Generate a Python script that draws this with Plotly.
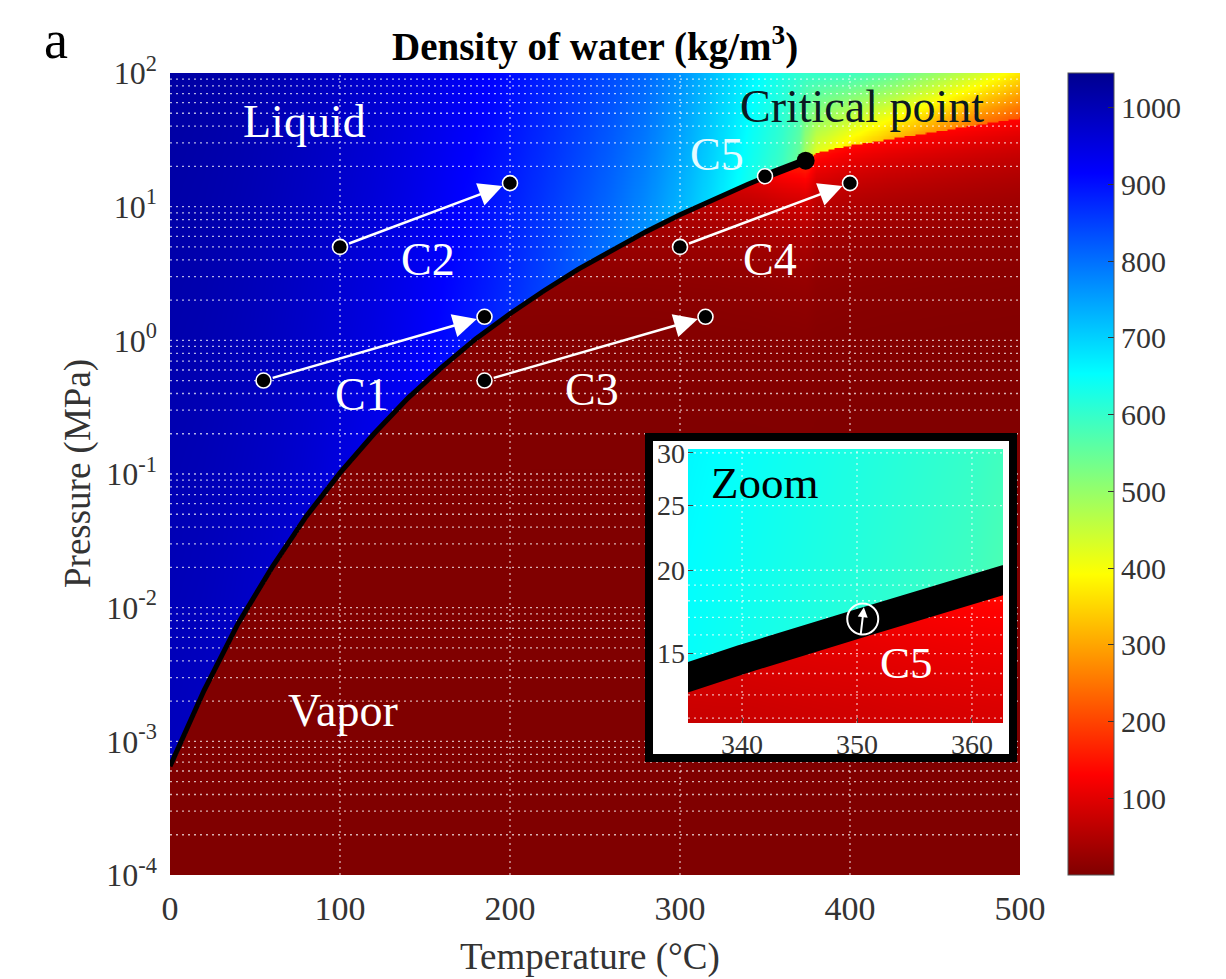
import numpy as np
import plotly.graph_objects as go

# ---------------- values ----------------
# phase boundary: saturation curve up to the critical point, then its
# supercritical continuation (where colour switches from orange to red)
BOUND_T = [0, 20, 40, 60, 80, 100, 120, 140, 160, 180, 200, 220, 240, 260, 280,
           300, 320, 340, 350, 360, 370, 373.9, 380, 400, 425, 450, 475, 500]
BOUND_P = [0.00065, 0.0024, 0.0076, 0.020, 0.048, 0.102, 0.20, 0.37, 0.63, 1.03,
           1.58, 2.35, 3.4, 4.75, 6.5, 8.7, 11.4, 14.7, 16.6, 18.8, 21.1, 22.1,
           25.5, 29, 32.5, 36.5, 41, 46]
# density (kg/m3) just above the boundary, at 100 MPa, and just below the boundary
BOUND_LIQ = [990, 988, 982, 975, 965, 952, 940, 925, 905, 888, 868, 845, 820, 795, 765,
             728, 685, 635, 612, 588, 540, 470, 420, 370, 320, 280, 245, 215]
BOUND_TOP = [1022, 1018, 1012, 1003, 993, 982, 970, 956, 940, 922, 903, 882, 860, 836, 808,
             765, 715, 668, 645, 624, 606, 600, 600, 590, 555, 500, 440, 365]
BOUND_VAP = [0.005, 0.017, 0.05, 0.13, 0.29, 0.6, 1.1, 2.0, 3.3, 5.2, 7.9, 11.6, 16.8, 23.7, 33.2,
             46.2, 64.7, 92.8, 113, 140, 165, 180, 150, 140, 135, 135, 135, 135]
N_SAT = 22                      # first 22 boundary points form the saturation curve
CRIT_T, CRIT_P = 373.9, 22.1

PATH_T0 = [55, 100, 185, 300]
PATH_P0 = [0.5, 5.0, 0.5, 5.0]
PATH_T1 = [185, 200, 315, 400]
PATH_P1 = [1.5, 15.0, 1.5, 15.0]
C5_T0, C5_P0 = 350, 16.9

LABELS = ["Liquid", "Vapor", "C1", "C2", "C3", "C4", "C5", "Critical point"]
LABEL_T = [79, 102, 113, 152, 248, 353, 322, 407]
LABEL_P = [43, 0.0017, 0.39, 4.0, 0.43, 4.0, 24.4, 55.7]
LABEL_COLORS = ["white", "white", "white", "white", "white", "white", "#e4fbff", "#0b1a22"]

X_TICKS = [0, 100, 200, 300, 400, 500]
Y_TICKS = [1e-4, 1e-3, 1e-2, 1e-1, 1e0, 1e1, 1e2]
Y_EXP = [-4, -3, -2, -1, 0, 1, 2]
CBAR_TICKS = [100, 200, 300, 400, 500, 600, 700, 800, 900, 1000]
RHO_MIN, RHO_MAX = 0, 1045

INSET_T_RANGE = [335.3, 362.7]
INSET_P_RANGE = [11.8, 30.4]
INSET_X_TICKS = [340, 350, 360]
INSET_Y_TICKS = [15, 20, 25, 30]
INSET_Y_GRID = [12, 13, 14, 15, 16, 17, 18, 19, 20, 25, 30]
INSET_ARROW_T = [350.3, 350.6]
INSET_ARROW_P = [15.9, 17.6]
INSET_LABELS = ["Zoom", "C5"]
INSET_LABEL_T = [342.0, 354.3]
INSET_LABEL_P = [27.0, 14.5]
INSET_LABEL_COLORS = ["black", "white"]

FONT = "Liberation Serif, Times New Roman, serif"
# the page body has an 8 px margin, so the figure is 8 px smaller and shifted
OFF = 8
W, H = 1226 - OFF, 979 - OFF


def fx(px):
    return (px - OFF) / W


def fy(py):
    return 1 - (py - OFF) / H


# ---------------- density raster built from the read values ----------------
bt = np.array(BOUND_T, float)
blp = np.log10(np.array(BOUND_P, float))


def density(tvals, lpvals):
    lp_line = np.interp(tvals, bt, blp)[None, :]
    liq0 = np.interp(tvals, bt, BOUND_LIQ)[None, :]
    liq1 = np.interp(tvals, bt, BOUND_TOP)[None, :]
    vap = np.interp(tvals, bt, BOUND_VAP)[None, :]
    LP = lpvals[:, None]
    frac = np.clip((LP - lp_line) / np.maximum(2.0 - lp_line, 1e-6), 0, 1)
    liquid = liq0 + (liq1 - liq0) * frac
    gas = vap * 10 ** (LP - lp_line)
    return np.round(np.where(LP >= lp_line, liquid, gas), 1)


tg = np.linspace(0, 500, 401)
lpg = np.linspace(-4, 2, 481)
Z = density(tg, lpg)

tgi = np.linspace(INSET_T_RANGE[0] - 0.2, INSET_T_RANGE[1] + 0.2, 160)
lpgi = np.linspace(np.log10(INSET_P_RANGE[0]) - 0.005, np.log10(INSET_P_RANGE[1]) + 0.005, 160)
ZI = density(tgi, lpgi)

JET_R = [[0, "rgb(128,0,0)"], [0.125, "rgb(255,0,0)"], [0.375, "rgb(255,255,0)"],
         [0.625, "rgb(0,255,255)"], [0.875, "rgb(0,0,255)"], [1, "rgb(0,0,143)"]]

fig = go.Figure()

# main heatmap
fig.add_trace(go.Heatmap(x=tg, y=10 ** lpg, z=Z, coloraxis="coloraxis", hoverinfo="skip",
                         zsmooth="best"))

# dotted white grid (drawn over the heatmap)
gx, gy = [], []
for t in X_TICKS[1:-1]:
    gx += [t, t, None]
    gy += [Y_TICKS[0], Y_TICKS[-1], None]
for e in Y_EXP[:-1]:
    for k in range(1, 10):
        p = k * 10.0 ** e
        if p <= Y_TICKS[0]:
            continue
        gx += [X_TICKS[0], X_TICKS[-1], None]
        gy += [p, p, None]
fig.add_trace(go.Scatter(x=gx, y=gy, mode="lines", hoverinfo="skip",
                         line=dict(color="rgba(255,255,255,0.7)", width=1.3, dash="2px,4px")))

# saturation curve
fig.add_trace(go.Scatter(x=BOUND_T[:N_SAT], y=BOUND_P[:N_SAT], mode="lines", hoverinfo="skip",
                         line=dict(color="black", width=5)))
# C5 path along the curve
c5_t = [C5_T0] + [t for t in BOUND_T[:N_SAT] if t > C5_T0]
c5_p = [C5_P0] + [p for t, p in zip(BOUND_T[:N_SAT], BOUND_P[:N_SAT]) if t > C5_T0]
fig.add_trace(go.Scatter(x=c5_t, y=c5_p, mode="lines", hoverinfo="skip",
                         line=dict(color="black", width=8)))
fig.add_trace(go.Scatter(x=[CRIT_T], y=[CRIT_P], mode="markers", hoverinfo="skip",
                         marker=dict(color="black", size=18)))
# path end points
fig.add_trace(go.Scatter(x=PATH_T0 + PATH_T1 + [C5_T0], y=PATH_P0 + PATH_P1 + [C5_P0],
                         mode="markers", hoverinfo="skip",
                         marker=dict(color="black", size=15, line=dict(color="white", width=1.6))))

# inset frame subplot (white background)
fig.add_trace(go.Scatter(x=[0.5], y=[0.5], xaxis="x2", yaxis="y2", mode="markers",
                         marker=dict(opacity=0), hoverinfo="skip"))

# inset plot
fig.add_trace(go.Heatmap(x=tgi, y=10 ** lpgi, z=ZI, coloraxis="coloraxis", hoverinfo="skip",
                         xaxis="x3", yaxis="y3", zsmooth="best"))
igx, igy = [], []
for t in INSET_X_TICKS:
    igx += [t, t, None]
    igy += [INSET_P_RANGE[0], INSET_P_RANGE[1], None]
for p in INSET_Y_GRID:
    igx += [INSET_T_RANGE[0], INSET_T_RANGE[1], None]
    igy += [p, p, None]
fig.add_trace(go.Scatter(x=igx, y=igy, mode="lines", hoverinfo="skip", xaxis="x3", yaxis="y3",
                         line=dict(color="rgba(255,255,255,0.7)", width=1.3, dash="2px,4px")))
fig.add_trace(go.Scatter(x=BOUND_T[:N_SAT], y=BOUND_P[:N_SAT], mode="lines", hoverinfo="skip",
                         xaxis="x3", yaxis="y3", line=dict(color="black", width=29)))
fig.add_trace(go.Scatter(x=[C5_T0 + 0.5], y=[C5_P0], mode="markers", hoverinfo="skip",
                         xaxis="x3", yaxis="y3",
                         marker=dict(symbol="circle-open", size=31, color="white",
                                     line=dict(color="white", width=2))))

ann = []
# arrows
for t0, p0, t1, p1 in zip(PATH_T0, PATH_P0, PATH_T1, PATH_P1):
    ann.append(dict(x=t1, y=np.log10(p1), ax=t0, ay=np.log10(p0), xref="x", yref="y",
                    axref="x", ayref="y", text="", showarrow=True, arrowhead=2,
                    arrowsize=1.9, arrowwidth=2.5, arrowcolor="white", standoff=8,
                    startstandoff=8))
ann.append(dict(x=INSET_ARROW_T[1], y=np.log10(INSET_ARROW_P[1]), ax=INSET_ARROW_T[0],
                ay=np.log10(INSET_ARROW_P[0]), xref="x3", yref="y3", axref="x3", ayref="y3",
                text="", showarrow=True, arrowhead=2, arrowsize=1, arrowwidth=2,
                arrowcolor="white"))
# region / path labels
for s, t, p, c in zip(LABELS, LABEL_T, LABEL_P, LABEL_COLORS):
    ann.append(dict(x=t, y=np.log10(p), xref="x", yref="y", text=s, showarrow=False,
                    xanchor="center", yanchor="middle",
                    font=dict(family=FONT, size=46, color=c)))
for s, t, p, c in zip(INSET_LABELS, INSET_LABEL_T, INSET_LABEL_P, INSET_LABEL_COLORS):
    ann.append(dict(x=t, y=np.log10(p), xref="x3", yref="y3", text=s, showarrow=False,
                    xanchor="center", yanchor="middle",
                    font=dict(family=FONT, size=45, color=c)))
# titles
ann.append(dict(x=fx(595), y=fy(45), xref="paper", yref="paper",
                text="<b>Density of water (kg/m<sup>3</sup>)</b>", showarrow=False,
                xanchor="center", yanchor="middle",
                font=dict(family=FONT, size=39, color="black")))
ann.append(dict(x=fx(56), y=fy(8), xref="paper", yref="paper", text="a", showarrow=False,
                xanchor="center", yanchor="top",
                font=dict(family=FONT, size=54, color="black")))
ann.append(dict(x=fx(590), y=fy(957), xref="paper", yref="paper", text="Temperature (°C)",
                showarrow=False, xanchor="center", yanchor="middle",
                font=dict(family=FONT, size=37, color="#333")))
ann.append(dict(x=fx(78), y=fy(474), xref="paper", yref="paper", text="Pressure (MPa)",
                showarrow=False, textangle=-90, xanchor="center", yanchor="middle",
                font=dict(family=FONT, size=37, color="#333")))

tickfont = dict(family=FONT, size=34, color="#333")
fig.update_layout(
    width=W, height=H, margin=dict(l=0, r=0, t=0, b=0, autoexpand=False),
    paper_bgcolor="white", plot_bgcolor="white", showlegend=False,
    coloraxis=dict(colorscale=JET_R, cmin=RHO_MIN, cmax=RHO_MAX,
                   colorbar=dict(x=fx(1068), xanchor="left", y=fy(875), yanchor="bottom",
                                 len=802, lenmode="pixels", thickness=46, xpad=0, ypad=0,
                                 outlinewidth=1, outlinecolor="#555",
                                 tickvals=CBAR_TICKS, ticks="inside", ticklen=6,
                                 tickcolor="#333",
                                 tickfont=dict(family=FONT, size=30, color="#333"))),
    xaxis=dict(domain=[fx(170), fx(1020)], range=[X_TICKS[0], X_TICKS[-1]], tickvals=X_TICKS,
               showgrid=False, zeroline=False, showline=False, ticks="", tickfont=tickfont,
               ticklabelstandoff=10, anchor="y"),
    yaxis=dict(domain=[fy(875), fy(73)], type="log",
               range=[Y_EXP[0], Y_EXP[-1]], tickvals=Y_TICKS,
               ticktext=["10<sup>%d</sup>" % e for e in Y_EXP],
               showgrid=False, zeroline=False, showline=False, ticks="",
               tickfont=dict(family=FONT, size=32, color="#333"),
               ticklabelstandoff=12, anchor="x"),
    xaxis2=dict(domain=[fx(645), fx(1017)], range=[0, 1], visible=False, anchor="y2"),
    yaxis2=dict(domain=[fy(762), fy(433)], range=[0, 1], visible=False, anchor="x2"),
    xaxis3=dict(domain=[fx(688), fx(1003)], range=INSET_T_RANGE, tickvals=INSET_X_TICKS,
                showgrid=False, zeroline=False, ticks="inside", ticklen=5, tickcolor="#444",
                tickfont=dict(family=FONT, size=28, color="#333"), anchor="y3",
                ticklabelstandoff=2),
    yaxis3=dict(domain=[fy(723), fy(449)], type="log",
                range=[np.log10(INSET_P_RANGE[0]), np.log10(INSET_P_RANGE[1])],
                tickvals=INSET_Y_TICKS, showgrid=False, zeroline=False, ticks="inside",
                ticklen=5, tickcolor="#444",
                tickfont=dict(family=FONT, size=28, color="#333"), anchor="x3",
                ticklabelstandoff=2),
    annotations=ann,
    shapes=[dict(type="rect", xref="paper", yref="paper", x0=fx(649), x1=fx(1013),
                 y0=fy(758), y1=fy(437), line=dict(color="black", width=8),
                 layer="above")],
)

fig.write_html("out.html")
